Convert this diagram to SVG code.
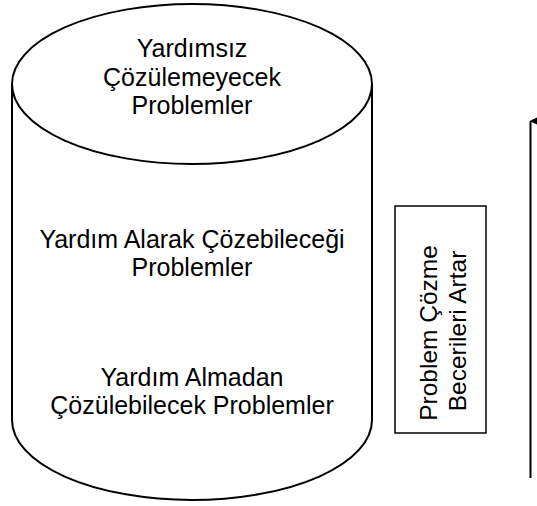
<svg xmlns="http://www.w3.org/2000/svg" width="537" height="506" viewBox="0 0 537 506">
<style>
.t{font-family:"Liberation Sans",Arial,sans-serif;font-size:25px;fill:#000;text-anchor:middle}
.r{font-family:"Liberation Sans",Arial,sans-serif;font-size:24.5px;fill:#000;text-anchor:middle}
.s{fill:none;stroke:#000;stroke-width:2}
</style>
<defs>
<marker id="ah" markerWidth="12" markerHeight="14" refX="6" refY="1" orient="auto-start-reverse" markerUnits="userSpaceOnUse" viewBox="0 0 12 14">
<path d="M6,0 L12,13 L0,13 Z" fill="#000"/>
</marker>
</defs>
<rect width="537" height="506" fill="#fff"/>
<g id="cylinder">
<path class="s" d="M12,84 L12,420 A180,80 0 0 0 372,420 L372,84"/>
<ellipse class="s" cx="192" cy="84" rx="180" ry="80" fill="#fff"/>
<text class="t" x="192" y="57">Yardımsız</text>
<text class="t" x="192" y="85.5">Çözülemeyecek</text>
<text class="t" x="192" y="113.5">Problemler</text>
<text class="t" x="192" y="248">Yardım Alarak Çözebileceği</text>
<text class="t" x="192" y="276">Problemler</text>
<text class="t" x="192" y="386">Yardım Almadan</text>
<text class="t" x="192" y="414">Çözülebilecek Problemler</text>
</g>
<g id="label-box">
<rect x="395" y="206" width="91" height="227" fill="#fff" stroke="#000" stroke-width="1.5"/>
<text class="r" transform="translate(437,333) rotate(-90)">Problem Çözme</text>
<text class="r" transform="translate(466,331) rotate(-90)">Becerileri Artar</text>
</g>
<g id="connectors">
<line x1="530.5" y1="478" x2="530.5" y2="121" stroke="#000" stroke-width="2" marker-end="url(#ah)"/>
</g>
</svg>
